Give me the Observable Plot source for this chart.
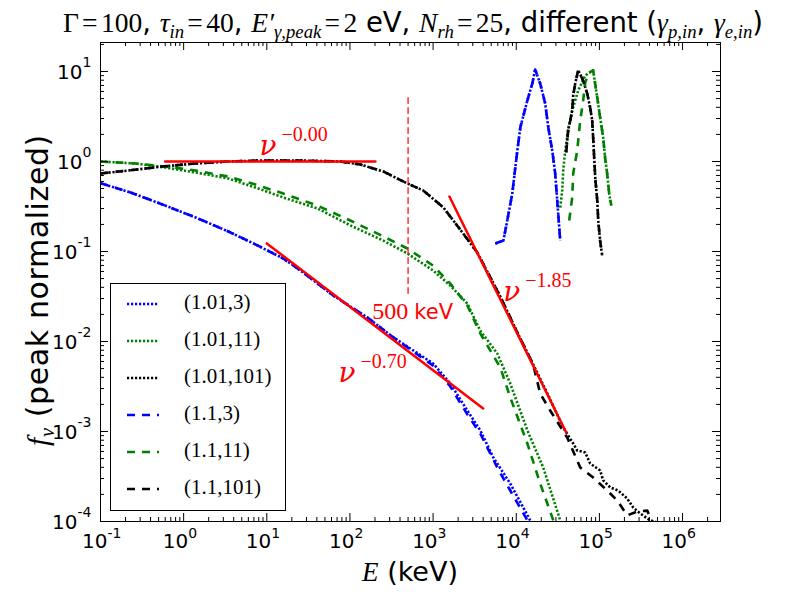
<!DOCTYPE html>
<html><head><meta charset="utf-8">
<script src="https://cdn.jsdelivr.net/npm/d3@7"></script>
<script src="https://cdn.jsdelivr.net/npm/@observablehq/plot@0.6"></script>
<style>
body{margin:0;background:#fff;}
#wrap{position:relative;width:804px;height:602px;font-family:"DejaVu Sans",sans-serif;color:#000;overflow:hidden;}
#chart{position:absolute;left:0;top:0;}
.mi{font-family:"Liberation Serif",serif;font-style:italic;}
.mr{font-family:"Liberation Serif",serif;font-style:normal;}
.eq{font-family:"Liberation Serif",serif;margin:0 0.12em;}
sub{font-size:68%;line-height:0;vertical-align:-0.3em;}
#title{position:absolute;left:0;top:6px;width:826px;text-align:center;font-size:27.5px;white-space:nowrap;}
#xlabel{position:absolute;left:0;width:820px;top:556px;text-align:center;font-size:27px;white-space:nowrap;}
#ylabel{position:absolute;left:37px;top:290px;font-size:30px;letter-spacing:0.6px;white-space:nowrap;transform:translate(-50%,-50%) rotate(-90deg);}
#legend{position:absolute;left:110px;top:283px;width:174px;height:226px;border:1px solid #000;background:#fff;}
.lrow{position:absolute;left:0;height:30px;}
.lrow svg{position:absolute;left:16px;top:10px;}
.lrow span{position:absolute;left:73px;top:0px;font-family:"Liberation Serif",serif;font-size:21px;white-space:nowrap;}
</style></head>
<body>
<div id="wrap">
  <div id="chart"></div>
  <div id="title"><span class="mr">Γ</span><span class="eq">=</span><span class="mr">100</span>, <span class="mi">τ</span><sub class="mi">in</sub><span class="eq">=</span><span class="mr">40</span>, <span class="mi">E′</span><sub class="mi">γ,peak</sub><span class="eq">=</span><span class="mr">2</span> eV, <span class="mi">N</span><sub class="mi">rh</sub><span class="eq">=</span><span class="mr">25</span>, different (<span class="mi">γ</span><sub class="mi">p,in</sub>, <span class="mi">γ</span><sub class="mi">e,in</sub>)</div>
  <div id="xlabel"><span class="mi">E</span> (keV)</div>
  <div id="ylabel"><span class="mi">f</span><sub class="mi">ν</sub> (peak normalized)</div>
  <div id="legend"></div>
</div>
<script>
// ---------- axis / tick values ----------
const xDomain = [0.1, 2.86e6];
const yDomain = [1e-4, 21];
const majorX = [0.1, 1, 10, 100, 1e3, 1e4, 1e5, 1e6];
const expX = ["-1", "0", "1", "2", "3", "4", "5", "6"];
const majorY = [1e-4, 1e-3, 1e-2, 1e-1, 1, 10];
const expY = ["-4", "-3", "-2", "-1", "0", "1"];
const minorMult = [2, 3, 4, 5, 6, 7, 8, 9];

// ---------- series: (gamma_p,in , gamma_e,in) ----------
const labels = ["(1.01,3)", "(1.01,11)", "(1.01,101)", "(1.1,3)", "(1.1,11)", "(1.1,101)"];

// (1.01,3) dotted blue
const E_b1 = [0.1,0.23,0.6,1.39,3.45,7.71,15.8,25.4,63.1,162,333,1.0e3,1.61e3,2.58e3,3.69e3,5.3e3,8.47e3,1.47e4,1.94e4];
const F_b1 = [0.574,0.453,0.324,0.239,0.167,0.117,0.0836,0.0615,0.0324,0.0185,0.0111,0.0057,0.00341,0.00171,0.00103,5.14e-4,2.64e-4,1.03e-4,7e-5];
// (1.1,3) dashed blue
const E_b2 = [0.1,0.23,0.6,1.39,3.45,7.71,15.8,25.4,63.1,162,333,1.0e3,1.61e3,2.58e3,3.69e3,5.91e3,8.47e3,1.36e4,1.69e4];
const F_b2 = [0.574,0.453,0.324,0.239,0.167,0.117,0.0836,0.0615,0.0324,0.0185,0.0111,0.0054,0.00316,0.00155,9.5e-4,3.98e-4,2.21e-4,1.03e-4,7e-5];
// blue high-energy peak
const E_bp = [5.6e3,7.0e3,7.8e3,8.95e3,1.03e4,1.12e4,1.36e4,1.56e4,1.69e4,1.94e4,2.23e4,2.43e4,2.71e4,2.94e4,3.11e4,3.38e4];
const F_bp = [0.123,0.132,0.221,0.44,1.32,2.39,4.76,7.36,10.5,7.36,4.41,2.39,1.32,0.736,0.369,0.132];

// (1.01,11) dotted green
const E_g1 = [0.1,0.264,0.6,1.39,3.45,7.3,15.8,40.6,101,252,490,1.0e3,1.61e3,2.58e3,3.69e3,5.91e3,8.47e3,1.36e4,2.11e4,3.38e4,3.88e4];
const F_g1 = [1.0,0.95,0.857,0.755,0.647,0.514,0.398,0.301,0.195,0.132,0.0951,0.0615,0.0419,0.0264,0.0132,0.00736,0.00341,0.00103,3.98e-4,1.03e-4,7e-5];
// (1.1,11) dashed green
const E_g2 = [0.1,0.264,0.6,1.39,3.45,7.3,15.8,40.6,101,252,490,1.0e3,1.61e3,2.58e3,3.69e3,6.43e3,8.47e3,1.36e4,1.94e4,2.79e4,3.2e4];
const F_g2 = [1.0,0.95,0.88,0.794,0.681,0.555,0.44,0.324,0.221,0.147,0.108,0.0698,0.044,0.0251,0.0123,0.00514,0.00239,7.36e-4,2.64e-4,1.03e-4,7e-5];
// green peaks
const E_gp1 = [3.38e4,3.57e4,3.67e4,3.88e4,4.22e4,4.71e4,5.56e4,6.75e4,8.41e4,9.42e4,1.02e5,1.11e5,1.17e5,1.24e5,1.31e5,1.39e5];
const F_gp1 = [0.308,0.476,0.794,1.32,2.27,3.69,6.15,9.03,10.3,5.14,3.08,1.85,1.11,0.736,0.44,0.324];
const E_gp2 = [4.33e4,4.71e4,4.84e4,5.41e4,5.88e4,6.38e4,6.75e4,7.54e4,8.41e4,9.42e4,1.02e5,1.11e5,1.17e5,1.24e5,1.31e5,1.39e5];
const F_gp2 = [0.221,0.398,0.736,1.32,2.86,4.76,7.55,9.75,10.3,5.14,3.08,1.85,1.11,0.736,0.44,0.324];

// (1.01,101) dotted black
const E_k1 = [0.1,0.217,0.556,1.39,3.45,8.38,25.4,76.7,133,252,490,762,1.33e3,2.12e3,3.4e3,6.43e3,1.03e4,1.6e4,2.56e4,3.67e4,4.84e4,5.41e4,6.75e4,7.74e4,1.02e5,1.11e5,1.35e5,1.68e5,2.16e5,2.55e5,3.09e5,4.08e5,5.85e5];
const F_k1 = [0.736,0.794,0.88,0.95,1.0,1.026,1.026,1.0,0.927,0.774,0.57,0.476,0.308,0.175,0.0975,0.0316,0.0126,0.00555,0.00227,0.00111,7.36e-4,6.15e-4,5.85e-4,4.41e-4,3.69e-4,2.86e-4,2.39e-4,2.21e-4,1.8e-4,1.43e-4,1.23e-4,1.03e-4,9.3e-5];
// (1.1,101) dashed black
const E_k2 = [0.1,0.217,0.556,1.39,3.45,8.38,25.4,76.7,133,252,490,762,1.33e3,2.12e3,3.4e3,6.43e3,1.03e4,1.6e4,1.94e4,2.56e4,4.1e4,5.88e4,8.41e4,1.24e5,1.64e5,2.16e5,2.84e5,3.76e5,4.69e5];
const F_k2 = [0.736,0.794,0.88,0.95,1.0,1.026,1.026,1.0,0.927,0.774,0.57,0.476,0.308,0.175,0.0975,0.0316,0.0126,0.00555,0.00264,0.00171,8.57e-4,3.98e-4,3.08e-4,2.21e-4,1.71e-4,1.17e-4,1.29e-4,1.32e-4,8.4e-5];
// black peak
const E_kp = [3.99e4,4.22e4,4.46e4,4.71e4,4.84e4,5.12e4,5.56e4,6.38e4,7.13e4,7.74e4,8.19e4,8.41e4,8.65e4,8.91e4,9.42e4,9.68e4,1.02e5,1.08e5];
const F_kp = [1.26,2.27,2.86,3.69,5.41,7.36,10.3,7.94,5.7,3.98,2.86,1.85,1.11,0.664,0.369,0.221,0.132,0.0904];

// power-law guide lines and the 500 keV marker
const fitE0 = [0.6, 202],     fitF0 = [1.0, 1.0];
const fitE1 = [10, 4.0e3],    fitF1 = [0.123, 0.0018];
const fitE2 = [1.57e3, 3.99e4], fitF2 = [0.408, 9.75e-4];
const markE = [500, 500],     markF = [5.14, 0.0324];
const noteE = [8.15, 72.6, 6.98e3];
const noteF = [1.26, 0.00388, 0.0308];
const noteSup = ["−0.00", "−0.70", "−1.85"];
const markNoteE = [186], markNoteF = [0.019];

// ---------- styles ----------
const BLUE = "#0000ff", GREEN = "#008000", BLACK = "#000000", RED = "#ff0000";
const DOT = "2.2,1.8", DASH = "8,7";
const series = [
  {label: labels[0], color: BLUE,  dash: DOT,  parts: [[E_b1, F_b1], [E_bp, F_bp]]},
  {label: labels[1], color: GREEN, dash: DOT,  parts: [[E_g1, F_g1], [E_gp1, F_gp1]]},
  {label: labels[2], color: BLACK, dash: DOT,  parts: [[E_k1, F_k1], [E_kp, F_kp]]},
  {label: labels[3], color: BLUE,  dash: DASH, parts: [[E_b2, F_b2], [E_bp, F_bp]]},
  {label: labels[4], color: GREEN, dash: DASH, parts: [[E_g2, F_g2], [E_gp2, F_gp2]]},
  {label: labels[5], color: BLACK, dash: DASH, parts: [[E_k2, F_k2], [E_kp, F_kp]]}
];

const toRows = (E, F, extra) => E.map((e, i) => ({E: e, f: F[i], ...extra}));
const rows = series.flatMap((s, si) => s.parts.flatMap(([E, F], pi) =>
  toRows(E, F, {key: si + "-" + pi, color: s.color, dash: s.dash, order: si})));
const dotted = rows.filter(r => r.dash === DOT);
const dashed = rows.filter(r => r.dash === DASH);

const fits = [
  ...toRows(fitE0, fitF0, {key: "a"}),
  ...toRows(fitE1, fitF1, {key: "b"}),
  ...toRows(fitE2, fitF2, {key: "c"})
];
const mark500 = toRows(markE, markF, {});
const notes = noteE.map((e, i) => ({E: e, f: noteF[i], sup: noteSup[i]}));
const markNote = toRows(markNoteE, markNoteF, {});

const minorX = majorX.flatMap(d => minorMult.map(m => d * m)).filter(v => v <= xDomain[1]);
const minorY = majorY.flatMap(d => minorMult.map(m => d * m)).filter(v => v <= yDomain[1]);
const xLab = majorX.map((v, i) => ({v, e: expX[i]}));
const yLab = majorY.map((v, i) => ({v, e: expY[i]}));

const W = 804, H = 602, mL = 100, mR = 84, mT = 42, mB = 81;
const fw = W - mL - mR, fh = H - mT - mB;

const tickMarks = [];
for (const [vals, len] of [[majorX, 8], [minorX, 4]]) {
  tickMarks.push(Plot.tickX(vals, {x: d => d, insetTop: fh - len, stroke: "black", strokeWidth: 1}));
  tickMarks.push(Plot.tickX(vals, {x: d => d, insetBottom: fh - len, stroke: "black", strokeWidth: 1}));
}
for (const [vals, len] of [[majorY, 8], [minorY, 4]]) {
  tickMarks.push(Plot.tickY(vals, {y: d => d, insetRight: fw - len, stroke: "black", strokeWidth: 1}));
  tickMarks.push(Plot.tickY(vals, {y: d => d, insetLeft: fw - len, stroke: "black", strokeWidth: 1}));
}

const negX = xLab.filter(d => d.e.startsWith("-")), posX = xLab.filter(d => !d.e.startsWith("-"));
const negY = yLab.filter(d => d.e.startsWith("-")), posY = yLab.filter(d => !d.e.startsWith("-"));
const lblFont = "DejaVu Sans";
const xTickText = (data, sw) => [
  Plot.text(data, {x: "v", text: () => "10", frameAnchor: "bottom", dy: 26, dx: sw / 2, textAnchor: "end", fontSize: 20, fontFamily: lblFont, fill: "black"}),
  Plot.text(data, {x: "v", text: "e", frameAnchor: "bottom", dy: 16, dx: sw / 2, textAnchor: "start", fontSize: 14, fontFamily: lblFont, fill: "black"})
];
const yTickText = (data, sw) => [
  Plot.text(data, {y: "v", text: () => "10", frameAnchor: "left", dx: -9 - sw, dy: 1, textAnchor: "end", fontSize: 20, fontFamily: lblFont, fill: "black"}),
  Plot.text(data, {y: "v", text: "e", frameAnchor: "left", dx: -9, dy: -9, textAnchor: "end", fontSize: 14, fontFamily: lblFont, fill: "black"})
];

const chart = Plot.plot({
  width: W, height: H,
  marginLeft: mL, marginRight: mR, marginTop: mT, marginBottom: mB,
  x: {type: "log", domain: xDomain, axis: null},
  y: {type: "log", domain: yDomain, axis: null},
  color: {type: "identity"},
  style: {background: "white", overflow: "visible"},
  marks: [
    Plot.line(dotted, {x: "E", y: "f", z: "key", stroke: "color", strokeWidth: 2.6, strokeDasharray: DOT, strokeLinecap: "butt", clip: true}),
    Plot.line(dashed, {x: "E", y: "f", z: "key", stroke: "color", strokeWidth: 2.6, strokeDasharray: DASH, strokeLinecap: "butt", clip: true}),
    Plot.line(fits, {x: "E", y: "f", z: "key", stroke: RED, strokeWidth: 2.5, clip: true}),
    Plot.line(mark500, {x: "E", y: "f", stroke: RED, strokeWidth: 1.2, strokeDasharray: "6,4", clip: true}),
    Plot.text(notes, {x: "E", y: "f", text: () => "ν", fill: RED, fontSize: 28, fontFamily: "DejaVu Serif", fontStyle: "italic", textAnchor: "start", lineAnchor: "bottom", dy: 3}),
    Plot.text(notes, {x: "E", y: "f", text: "sup", fill: RED, fontSize: 20, fontFamily: "Liberation Serif", textAnchor: "start", lineAnchor: "bottom", dx: 22, dy: -11}),
    Plot.text(markNote, {x: "E", y: "f", text: () => "500", fill: RED, fontSize: 24, fontFamily: "Liberation Serif", textAnchor: "start", lineAnchor: "bottom", dy: 3}),
    Plot.text(markNote, {x: "E", y: "f", text: () => "keV", fill: RED, fontSize: 21, fontFamily: "DejaVu Sans", textAnchor: "start", lineAnchor: "bottom", dx: 42, dy: 3}),
    Plot.frame({stroke: "black", strokeWidth: 1}),
    ...tickMarks,
    ...xTickText(negX, 14), ...xTickText(posX, 9),
    ...yTickText(negY, 14), ...yTickText(posY, 9)
  ]
});
document.getElementById("chart").appendChild(chart);

// ---------- legend ----------
const legend = document.getElementById("legend");
series.forEach((s, i) => {
  const row = document.createElement("div");
  row.className = "lrow";
  row.style.top = (6 + i * 37) + "px";
  row.style.width = "170px";
  row.innerHTML = `<svg width="34" height="8"><line x1="0" y1="4" x2="32" y2="4" stroke="${s.color}" stroke-width="2.6" stroke-dasharray="${s.dash}"/></svg><span>${s.label}</span>`;
  legend.appendChild(row);
});
</script>
</body></html>
